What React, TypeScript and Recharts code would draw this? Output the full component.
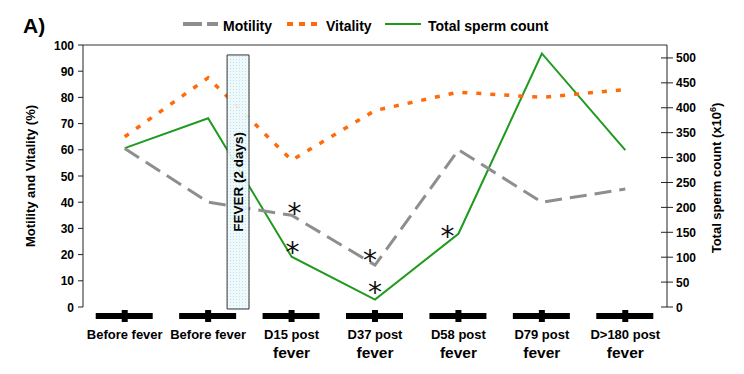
import React from 'react';
import { LineChart, Line, XAxis, YAxis, ReferenceArea, ReferenceLine, Legend, LabelList, Label } from 'recharts';

const categories = [
  'Before fever',
  'Before fever',
  'D15 post\nfever',
  'D37 post\nfever',
  'D58 post\nfever',
  'D79 post\nfever',
  'D>180 post\nfever',
];
const motility = [60.5, 40, 35, 16, 60, 40, 45];
const vitality = [65, 87.5, 56, 75, 82, 80, 83];
const spermCount = [319, 379, 101, 15, 147, 509, 315];
const motilitySignificant = [false, false, true, true, false, false, false];
const countSignificant = [false, false, true, true, true, false, false];
const leftTicks = [0, 10, 20, 30, 40, 50, 60, 70, 80, 90, 100];
const rightTicks = [0, 50, 100, 150, 200, 250, 300, 350, 400, 450, 500];
const feverX = [1.227, 1.49];
const feverY = [-0.76, 96.2];
const feverLabel = 'FEVER (2 days)';
const seriesNames = ['Motility', 'Vitality', 'Total sperm count'];

const data = categories.map((c, i) => ({
  idx: i,
  category: c,
  motility: motility[i],
  vitality: vitality[i],
  count: spermCount[i],
}));

const FONT = "'Liberation Sans', Arial, Helvetica, sans-serif";
const GRAY = '#8e8e8e';
const ORANGE = '#ff6a0a';
const GREEN = '#1e9a1e';

const motilityStarOffsets: Record<number, [number, number]> = { 2: [3, -8], 3: [-5, -11] };
const countStarOffsets: Record<number, [number, number]> = { 2: [1, -11], 3: [0, -14], 4: [-11, -4] };

const makeStar = (sig: boolean[], offsets: Record<number, [number, number]>) => (props: any) => {
  const { x, y, index } = props;
  if (!sig[index]) return null;
  const [dx, dy] = offsets[index] || [0, -10];
  return (
    <text
      x={x + dx}
      y={y + dy + 16}
      textAnchor="middle"
      fontSize={28}
      fontFamily="'DejaVu Sans', sans-serif"
      fill="#111"
    >
      *
    </text>
  );
};

const LeftTick = (props: any) => {
  const { x, y, payload } = props;
  return (
    <text x={x} y={y} dy={4.5} textAnchor="end" fontSize={12} fontWeight="bold" fontFamily={FONT} fill="#000">
      {payload.value}
    </text>
  );
};

const RightTick = (props: any) => {
  const { x, y, payload } = props;
  const axisX = x - 9;
  return (
    <g>
      <line x1={axisX - 6} x2={axisX + 6} y1={y} y2={y} stroke="#222" strokeWidth={1} />
      <text x={x} y={y} dy={4.5} textAnchor="start" fontSize={12} fontWeight="bold" fontFamily={FONT} fill="#000">
        {payload.value}
      </text>
    </g>
  );
};

const XTick = (props: any) => {
  const { x, y, payload } = props;
  const lines = String(categories[payload.value] ?? '').split('\n');
  return (
    <g>
      <rect x={x - 29} y={y + 6} width={57} height={6} fill="#000" />
      <rect x={x - 3} y={y + 3} width={6} height={12} fill="#000" />
      <text x={x} y={y + 32} textAnchor="middle" fontSize={13} fontWeight="bold" fontFamily={FONT} fill="#000">
        {lines[0]}
      </text>
      {lines[1] && (
        <text x={x} y={y + 51} textAnchor="middle" fontSize={15.5} fontWeight="bold" fontFamily={FONT} fill="#000">
          {lines[1]}
        </text>
      )}
    </g>
  );
};

const renderLegend = () => (
  <svg width={736} height={36} style={{ display: 'block' }}>
    <text x={15} y={25} fontSize={21} fontWeight="bold" fontFamily={FONT} fill="#000">A)</text>
    <line x1={175} y1={16} x2={210} y2={16} stroke={GRAY} strokeWidth={4} strokeDasharray="19 5" />
    <text x={215} y={23} fontSize={14} fontWeight="bold" fontFamily={FONT} fill="#000">{seriesNames[0]}</text>
    <line x1={279} y1={16} x2={312} y2={16} stroke={ORANGE} strokeWidth={4} strokeDasharray="6 6" />
    <text x={318} y={23} fontSize={14} fontWeight="bold" fontFamily={FONT} fill="#000">{seriesNames[1]}</text>
    <line x1={377} y1={16} x2={413} y2={16} stroke={GREEN} strokeWidth={2} />
    <text x={420} y={23} fontSize={14} fontWeight="bold" fontFamily={FONT} fill="#000">{seriesNames[2]}</text>
  </svg>
);

export default function App() {
  return (
    <div style={{ width: 736, height: 366 }}>
      <LineChart width={736} height={366} data={data} margin={{ top: 37, right: 0, bottom: 0, left: 0 }}>
        <defs>
          <pattern id="feverDots" width="3" height="3" patternUnits="userSpaceOnUse">
            <rect width="3" height="3" fill="#eef9fb" />
            <rect x="0" y="0" width="1" height="1" fill="#b6e0ea" />
          </pattern>
        </defs>
        <Legend
          layout="horizontal"
          verticalAlign="middle"
          align="center"
          content={renderLegend}
          wrapperStyle={{ top: 0, left: 0, width: 736, height: 36 }}
        />
        <XAxis
          dataKey="idx"
          type="number"
          domain={[-0.5, 6.5]}
          ticks={[0, 1, 2, 3, 4, 5, 6]}
          axisLine={false}
          tickLine={false}
          tickSize={0}
          tickMargin={0}
          height={67}
          tick={<XTick />}
          interval={0}
        />
        <YAxis
          yAxisId="left"
          orientation="left"
          domain={[0, 100]}
          ticks={leftTicks}
          width={75}
          tickSize={5}
          tickMargin={4}
          axisLine={{ stroke: '#222' }}
          tickLine={{ stroke: '#222' }}
          tick={<LeftTick />}
          interval={0}
        >
          <Label
            content={(p: any) => {
              const vb = p.viewBox;
              return (
                <text
                  transform={`translate(${vb.x + 27},${vb.y + vb.height / 2}) rotate(-90)`}
                  textAnchor="middle"
                  fontSize={13}
                  fontWeight="bold"
                  fontFamily={FONT}
                  fill="#000"
                >
                  Motility and Vitality (%)
                </text>
              );
            }}
          />
        </YAxis>
        <YAxis
          yAxisId="right"
          orientation="right"
          domain={[0, 526]}
          ticks={rightTicks}
          width={77}
          tickSize={6}
          tickMargin={3}
          axisLine={{ stroke: '#222' }}
          tickLine={false}
          tick={<RightTick />}
          interval={0}
        >
          <Label
            content={(p: any) => {
              const vb = p.viewBox;
              return (
                <text
                  transform={`translate(${vb.x + 54},${vb.y + vb.height / 2 + 2}) rotate(-90)`}
                  textAnchor="middle"
                  fontSize={13}
                  fontWeight="bold"
                  fontFamily={FONT}
                  fill="#000"
                >
                  Total sperm count (x10<tspan dy={-5} fontSize={9}>6</tspan><tspan dy={5}>)</tspan>
                </text>
              );
            }}
          />
        </YAxis>
        <ReferenceLine yAxisId="left" y={100} stroke="#333" strokeWidth={1} ifOverflow="visible" />
        <Line
          yAxisId="right"
          dataKey="count"
          type="linear"
          stroke={GREEN}
          strokeWidth={2}
          dot={false}
          activeDot={false}
          isAnimationActive={false}
        >
          <LabelList dataKey="count" content={makeStar(countSignificant, countStarOffsets)} />
        </Line>
        <Line
          yAxisId="left"
          dataKey="motility"
          type="linear"
          stroke={GRAY}
          strokeWidth={3}
          strokeDasharray="17 8"
          dot={false}
          activeDot={false}
          isAnimationActive={false}
        >
          <LabelList dataKey="motility" content={makeStar(motilitySignificant, motilityStarOffsets)} />
        </Line>
        <Line
          yAxisId="left"
          dataKey="vitality"
          type="linear"
          stroke={ORANGE}
          strokeWidth={3.5}
          strokeDasharray="5 9"
          dot={false}
          activeDot={false}
          isAnimationActive={false}
        />
        <ReferenceArea
          yAxisId="left"
          x1={feverX[0]}
          x2={feverX[1]}
          y1={feverY[0]}
          y2={feverY[1]}
          ifOverflow="visible"
          fill="url(#feverDots)"
          fillOpacity={0.92}
          stroke="#333"
          strokeWidth={1}
          zIndex={1000}
          label={(p: any) => {
            const vb = p.viewBox;
            const cx = vb.x + vb.width / 2;
            const cy = vb.y + vb.height / 2;
            return (
              <text
                transform={`translate(${cx + 5},${cy}) rotate(-90)`}
                textAnchor="middle"
                fontSize={13.5}
                fontWeight="bold"
                fontFamily={FONT}
                fill="#000"
              >
                {feverLabel}
              </text>
            );
          }}
        />
      </LineChart>
    </div>
  );
}
